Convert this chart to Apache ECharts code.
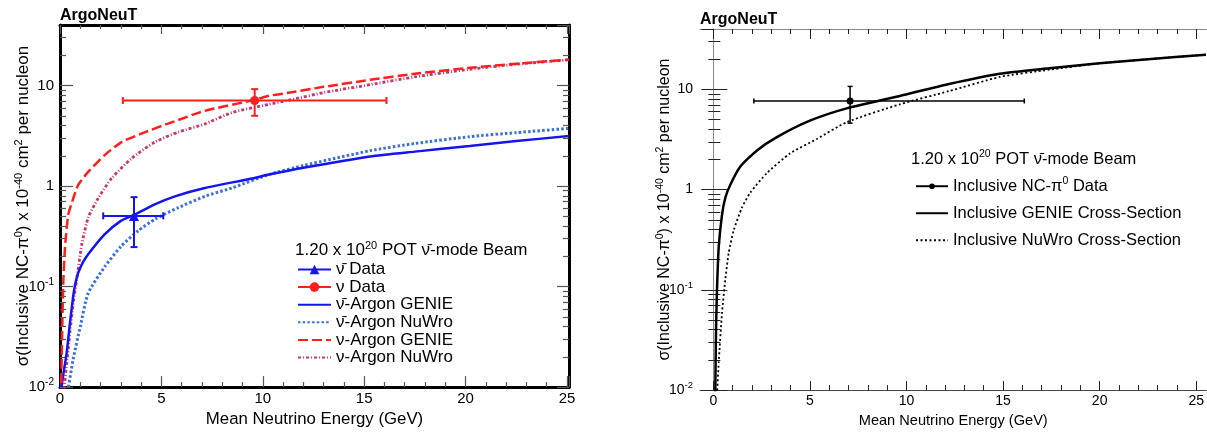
<!DOCTYPE html>
<html>
<head>
<meta charset="utf-8">
<script src="https://cdn.jsdelivr.net/npm/echarts@6/dist/echarts.min.js"></script>
<style>
html,body{margin:0;padding:0;background:#fff;}
#chart{width:1207px;height:433px;}
</style>
</head>
<body>
<div id="chart"></div>
<script>
// ---------------- data (left panel) ----------------
const nubarDataE = [3.65], nubarDataS = [0.505];
const nubarDataElo = [2.13], nubarDataEhi = [5.09];
const nubarDataSlo = [0.247], nubarDataShi = [0.775];

const nuDataE = [9.6], nuDataS = [7.1];
const nuDataElo = [3.1], nuDataEhi = [16.1];
const nuDataSlo = [5.0], nuDataShi = [9.2];

const nubarGenieE = [0.05,0.1,0.33,0.5,0.65,0.74,0.85,0.99,1.15,1.39,2.2,3.0,3.7,4.7,5.67,7.14,9.4,10.3,12,15.3,17.5,20.2,22.5,25.1];
const nubarGenieS = [0.008,0.011,0.022,0.045,0.08,0.103,0.128,0.152,0.177,0.21,0.33,0.45,0.52,0.66,0.79,0.956,1.18,1.3,1.52,1.97,2.2,2.5,2.8,3.15];

const nubarNuwroE = [0.38,0.65,1.0,1.39,2.2,3.0,3.86,4.7,5.83,7.14,8.5,10.3,12,15.3,17.5,20.2,22.5,25.1];
const nubarNuwroS = [0.009,0.019,0.04,0.086,0.157,0.25,0.36,0.47,0.61,0.79,0.96,1.3,1.6,2.25,2.65,3.1,3.4,3.75];

const nuGenieE = [0.05,0.1,0.16,0.25,0.41,0.66,0.9,1.4,2.2,3.04,4.2,5.5,7.14,9.6,10.3,11.0,13,15.3,17.5,20.2,22.5,25.1];
const nuGenieS = [0.008,0.03,0.107,0.25,0.52,0.76,1.03,1.39,2.03,2.74,3.44,4.3,5.6,7.2,7.9,8.3,9.7,11.4,13.1,15.0,16.5,18.1];

const nuNuwroE = [0.15,0.33,0.49,0.66,0.82,1.07,1.4,1.89,2.55,3.53,4.68,5.83,7.14,8.5,10.3,11.5,13,15.3,17.5,20.2,22.5,25.1];
const nuNuwroS = [0.008,0.017,0.035,0.07,0.116,0.26,0.49,0.76,1.2,1.88,2.74,3.44,4.15,5.4,6.5,7.3,8.5,10.2,12.2,14.5,16.3,18.0];

// ---------------- data (right panel) ----------------
const incDataE = [7.08], incDataS = [7.65];
const incDataElo = [2.1], incDataEhi = [16.1];
const incDataSlo = [4.6], incDataShi = [10.7];

const incGenieE = [0.1,0.14,0.19,0.28,0.45,0.62,0.88,1.4,2.26,3.29,5.0,6.9,9.66,12.2,14.83,17.4,20.0,22.5,25.5];
const incGenieS = [0.009,0.04,0.1,0.27,0.56,0.83,1.12,1.7,2.46,3.34,4.87,6.46,8.6,11.3,14.3,16.2,18.2,20.0,22.2];

const incNuwroE = [0.19,0.28,0.45,0.62,0.79,1.05,1.48,1.91,2.77,3.98,5.36,6.9,9.66,12.2,14.83,17.4,20.0,22.5,25.5];
const incNuwroS = [0.009,0.019,0.059,0.126,0.23,0.39,0.66,0.93,1.46,2.3,3.2,4.7,7.1,9.6,13.3,15.7,18.2,20.0,22.2];

// ---------------- ticks ----------------
const xMajorTicks = [0,5,10,15,20,25];
const xMinorTicks = [1,2,3,4,6,7,8,9,11,12,13,14,16,17,18,19,21,22,23,24];
const yMinorTicks = [0.02,0.03,0.04,0.05,0.06,0.07,0.08,0.09,0.2,0.3,0.4,0.5,0.6,0.7,0.8,0.9,2,3,4,5,6,7,8,9,20,30];

// ---------------- helpers ----------------
const FONT = '"Liberation Sans", Arial, Helvetica, sans-serif';
const NUBAR = 'ν\u0304';
const zip = (a,b) => a.map((v,i)=>[v,b[i]]);
const SUP = (fs) => ({fontSize: fs, fontFamily: FONT, color:'#000', padding:[0,0,fs*0.9,0]});

function logLabel(v){
  const e = Math.round(Math.log10(v));
  if (Math.abs(Math.log10(v)-e) > 1e-6) return '';
  if (e === 0) return '1';
  if (e === 1) return '10';
  return '10{sup|' + e + '}';
}

function errRender(capPx, lw){
  return function(params, api){
    const x = api.value(0), y = api.value(1);
    const pl = api.coord([api.value(2), y]);
    const ph = api.coord([api.value(3), y]);
    const pb = api.coord([x, api.value(4)]);
    const pt = api.coord([x, api.value(5)]);
    const st = {fill:null, stroke: api.visual('color'), lineWidth: lw};
    const L = (x1,y1,x2,y2)=>({type:'line', shape:{x1,y1,x2,y2}, style: st});
    return {type:'group', children:[
      L(pl[0],pl[1],ph[0],ph[1]),
      L(pl[0],pl[1]-capPx,pl[0],pl[1]+capPx),
      L(ph[0],ph[1]-capPx,ph[0],ph[1]+capPx),
      L(pb[0],pb[1],pt[0],pt[1]),
      L(pb[0]-capPx,pb[1],pb[0]+capPx,pb[1]),
      L(pt[0]-capPx,pt[1],pt[0]+capPx,pt[1])
    ]};
  };
}
function errData(E,S,El,Eh,Sl,Sh){ return E.map((e,i)=>[e,S[i],El[i],Eh[i],Sl[i],Sh[i]]); }

// ---------------- axes ----------------
const gridL = {left:60, right:638, top:25, bottom:41};
const gridR = {left:700, right:0, top:29, bottom:39};
const LXMIN = 0, LXMAX = 25.1, RXMIN = -0.69, RXMAX = 25.53, YMIN = 0.01, YMAX = 40;
const tickGrey = '#555';

const xAxes = [
  {gridIndex:0, type:'value', position:'bottom', min:LXMIN, max:LXMAX, interval:5,
   axisLine:{show:true, onZero:false, lineStyle:{color:'#000', width:3}},
   axisTick:{inside:true, length:11, lineStyle:{color:tickGrey, width:1.2}},
   minorTick:{show:true, splitNumber:5, length:5, lineStyle:{color:tickGrey, width:1.2}},
   splitLine:{show:false},
   axisLabel:{fontSize:15, fontFamily:FONT, color:'#000', margin:4},
   name:'Mean Neutrino Energy (GeV)', nameLocation:'middle', nameGap:18,
   nameTextStyle:{fontSize:16.8, fontFamily:FONT, color:'#000', verticalAlign:'top'}},
  {gridIndex:0, type:'value', position:'top', min:LXMIN, max:LXMAX, interval:5,
   axisLine:{show:true, onZero:false, lineStyle:{color:'#000', width:3}},
   axisTick:{inside:true, length:9, lineStyle:{color:tickGrey, width:1.2}},
   minorTick:{show:true, splitNumber:5, length:4, lineStyle:{color:tickGrey, width:1.2}},
   splitLine:{show:false}, axisLabel:{show:false}},
  {gridIndex:1, type:'value', position:'bottom', min:RXMIN, max:RXMAX,
   axisLine:{show:true, onZero:false, lineStyle:{color:'#444', width:1}},
   axisTick:{inside:true, length:9, customValues:xMajorTicks, lineStyle:{color:'#222', width:1}},
   splitLine:{show:false},
   axisLabel:{fontSize:14, fontFamily:FONT, color:'#000', margin:4, customValues:xMajorTicks},
   name:'Mean Neutrino Energy (GeV)', nameLocation:'middle', nameGap:19,
   nameTextStyle:{fontSize:14.6, fontFamily:FONT, color:'#000', verticalAlign:'top'}},
  {gridIndex:1, type:'value', position:'bottom', min:RXMIN, max:RXMAX,
   axisLine:{show:false}, splitLine:{show:false}, axisLabel:{show:false},
   axisTick:{inside:true, length:5, customValues:xMinorTicks, lineStyle:{color:'#222', width:1}}},
  {gridIndex:1, type:'value', position:'top', min:RXMIN, max:RXMAX,
   axisLine:{show:true, onZero:false, lineStyle:{color:'#888', width:1}},
   axisTick:{inside:true, length:10, customValues:xMajorTicks, lineStyle:{color:'#222', width:1}},
   splitLine:{show:false}, axisLabel:{show:false}},
  {gridIndex:1, type:'value', position:'top', min:RXMIN, max:RXMAX,
   axisLine:{show:false}, splitLine:{show:false}, axisLabel:{show:false},
   axisTick:{inside:true, length:5, customValues:xMinorTicks, lineStyle:{color:'#222', width:1}}}
];

const yName = 'σ(Inclusive NC-π{sup|0}) x 10{sup|-40} cm{sup|2} per nucleon';
const yAxes = [
  {gridIndex:0, type:'log', logBase:10, position:'left', min:YMIN, max:YMAX,
   axisLine:{show:true, lineStyle:{color:'#000', width:3}},
   axisTick:{inside:true, length:13, lineStyle:{color:tickGrey, width:1.2}},
   splitLine:{show:false}, minorTick:{show:false},
   axisLabel:{fontSize:15, fontFamily:FONT, color:'#000', margin:6, showMaxLabel:false,
              formatter:logLabel, rich:{sup:SUP(10)}},
   name:yName, nameLocation:'middle', nameGap:26, nameRotate:90, nameMoveOverlap:false,
   nameTextStyle:{fontSize:17, fontFamily:FONT, color:'#000', rich:{sup:SUP(11)}}},
  {gridIndex:0, type:'log', logBase:10, position:'left', min:YMIN, max:YMAX,
   axisLine:{show:false}, splitLine:{show:false}, axisLabel:{show:false},
   axisTick:{inside:true, length:6, customValues:yMinorTicks, lineStyle:{color:tickGrey, width:1.2}}},
  {gridIndex:0, type:'log', logBase:10, position:'right', min:YMIN, max:YMAX,
   axisLine:{show:true, lineStyle:{color:'#000', width:3}},
   axisTick:{inside:true, length:12, lineStyle:{color:tickGrey, width:1.2}},
   splitLine:{show:false}, axisLabel:{show:false}},
  {gridIndex:0, type:'log', logBase:10, position:'right', min:YMIN, max:YMAX,
   axisLine:{show:false}, splitLine:{show:false}, axisLabel:{show:false},
   axisTick:{inside:true, length:6, customValues:yMinorTicks, lineStyle:{color:tickGrey, width:1.2}}},
  {gridIndex:1, type:'log', logBase:10, position:'left', min:YMIN, max:YMAX,
   axisLine:{show:true, lineStyle:{color:'#888', width:1}},
   axisTick:{inside:true, length:14, lineStyle:{color:'#222', width:1}},
   splitLine:{show:false},
   axisLabel:{fontSize:14, fontFamily:FONT, color:'#000', margin:7, showMaxLabel:false,
              formatter:logLabel, rich:{sup:SUP(9.5)}},
   name:yName, nameLocation:'middle', nameGap:25, nameRotate:90, nameMoveOverlap:false,
   nameTextStyle:{fontSize:16, fontFamily:FONT, color:'#000', rich:{sup:SUP(10.5)}}},
  {gridIndex:1, type:'log', logBase:10, position:'left', min:YMIN, max:YMAX,
   axisLine:{show:false}, splitLine:{show:false}, axisLabel:{show:false},
   axisTick:{inside:true, length:7, customValues:yMinorTicks, lineStyle:{color:'#222', width:1}}},
  {gridIndex:1, type:'log', logBase:10, position:'right', min:YMIN, max:YMAX,
   axisLine:{show:true, lineStyle:{color:'#888', width:1}},
   axisTick:{inside:true, length:12, lineStyle:{color:'#222', width:1}},
   splitLine:{show:false}, axisLabel:{show:false}},
  {gridIndex:1, type:'log', logBase:10, position:'right', min:YMIN, max:YMAX,
   axisLine:{show:false}, splitLine:{show:false}, axisLabel:{show:false},
   axisTick:{inside:true, length:5, customValues:yMinorTicks, lineStyle:{color:'#222', width:1}}}
];

// ---------------- series ----------------
const RED = '#ff1e1e', BLUE = '#1414f0', LBLUE = '#3b6fdc', MAG = '#c8346e';
const curve = (name, E, S, xi, yi, color, width, type, z) => ({
  name, type:'line', xAxisIndex:xi, yAxisIndex:yi, data:zip(E,S), symbol:'none',
  smooth:0.2, lineStyle:{color, width, type}, itemStyle:{color}, z:z||2, animation:false
});

const series = [
  curve(NUBAR+'-Argon GENIE', nubarGenieE, nubarGenieS, 0, 0, BLUE, 2.5, 'solid', 3),
  curve(NUBAR+'-Argon NuWro', nubarNuwroE, nubarNuwroS, 0, 0, LBLUE, 3, [2.5,2.2], 2),
  curve('ν-Argon GENIE', nuGenieE, nuGenieS, 0, 0, RED, 2.5, [10,4], 3),
  curve('ν-Argon NuWro', nuNuwroE, nuNuwroS, 0, 0, MAG, 2.8, [3,2,1,2], 2),
  {name:'nubarErr', type:'custom', xAxisIndex:0, yAxisIndex:0, renderItem:errRender(3.5, 2),
   data:errData(nubarDataE,nubarDataS,nubarDataElo,nubarDataEhi,nubarDataSlo,nubarDataShi),
   itemStyle:{color:BLUE}, encode:{x:[0,2,3], y:[1,4,5]}, z:5, animation:false},
  {name:'nuErr', type:'custom', xAxisIndex:0, yAxisIndex:0, renderItem:errRender(3.5, 2),
   data:errData(nuDataE,nuDataS,nuDataElo,nuDataEhi,nuDataSlo,nuDataShi),
   itemStyle:{color:RED}, encode:{x:[0,2,3], y:[1,4,5]}, z:5, animation:false},
  {name:NUBAR+' Data', type:'line', xAxisIndex:0, yAxisIndex:0, data:zip(nubarDataE,nubarDataS),
   symbol:'triangle', symbolSize:10, lineStyle:{color:BLUE, width:2}, itemStyle:{color:BLUE}, z:6, animation:false},
  {name:'ν Data', type:'line', xAxisIndex:0, yAxisIndex:0, data:zip(nuDataE,nuDataS),
   symbol:'circle', symbolSize:9, lineStyle:{color:RED, width:2}, itemStyle:{color:RED}, z:6, animation:false},

  curve('Inclusive GENIE Cross-Section', incGenieE, incGenieS, 2, 4, '#000', 2.5, 'solid', 3),
  curve('Inclusive NuWro Cross-Section', incNuwroE, incNuwroS, 2, 4, '#000', 1.8, [2,2.5], 2),
  {name:'incErr', type:'custom', xAxisIndex:2, yAxisIndex:4, renderItem:errRender(2.5, 1.5),
   data:errData(incDataE,incDataS,incDataElo,incDataEhi,incDataSlo,incDataShi),
   itemStyle:{color:'#000'}, encode:{x:[0,2,3], y:[1,4,5]}, z:5, animation:false},
  {name:'Inclusive NC-π0 Data', type:'line', xAxisIndex:2, yAxisIndex:4, data:zip(incDataE,incDataS),
   symbol:'circle', symbolSize:7, lineStyle:{color:'#000', width:1.5}, itemStyle:{color:'#000'}, z:6, animation:false}
];

const noSym = (name) => ({name, itemStyle:{opacity:0}});
const option = {
  backgroundColor:'#fff',
  animation:false,
  grid:[gridL, gridR],
  xAxis:xAxes,
  yAxis:yAxes,
  legend:[
    {data:[NUBAR+' Data','ν Data',noSym(NUBAR+'-Argon GENIE'),noSym(NUBAR+'-Argon NuWro'),noSym('ν-Argon GENIE'),noSym('ν-Argon NuWro')],
     orient:'vertical', left:297, top:261, padding:0, itemWidth:33, itemHeight:12, itemGap:0.6,
     selectedMode:false, textStyle:{fontSize:17, fontFamily:FONT, color:'#000'}},
    {data:['Inclusive NC-π0 Data',noSym('Inclusive GENIE Cross-Section'),noSym('Inclusive NuWro Cross-Section')],
     orient:'vertical', left:915, top:176, padding:0, itemWidth:32, itemHeight:7, itemGap:10,
     selectedMode:false,
     formatter:(n)=> n==='Inclusive NC-π0 Data' ? 'Inclusive NC-π{sup|0} Data' : n,
     textStyle:{fontSize:16.5, fontFamily:FONT, color:'#000', rich:{sup:SUP(10.5)}}}
  ],
  graphic:[
    {type:'text', left:60, top:8, style:{text:'ArgoNeuT', font:'bold 16px '+FONT, fill:'#000'}},
    {type:'text', left:700, top:12, style:{text:'ArgoNeuT', font:'bold 16px '+FONT, fill:'#000'}},
    {type:'text', left:295, top:240, style:{text:'1.20 x 10{sup|20} POT '+NUBAR+'-mode Beam',
      font:'17px '+FONT, fill:'#000', rich:{sup:SUP(11)}}},
    {type:'text', left:911, top:149, style:{text:'1.20 x 10{sup|20} POT '+NUBAR+'-mode Beam',
      font:'16.5px '+FONT, fill:'#000', rich:{sup:SUP(10.5)}}}
  ],
  series:series
};

const chart = echarts.init(document.getElementById('chart'), null, {renderer:'canvas'});
chart.setOption(option);
</script>
</body>
</html>
